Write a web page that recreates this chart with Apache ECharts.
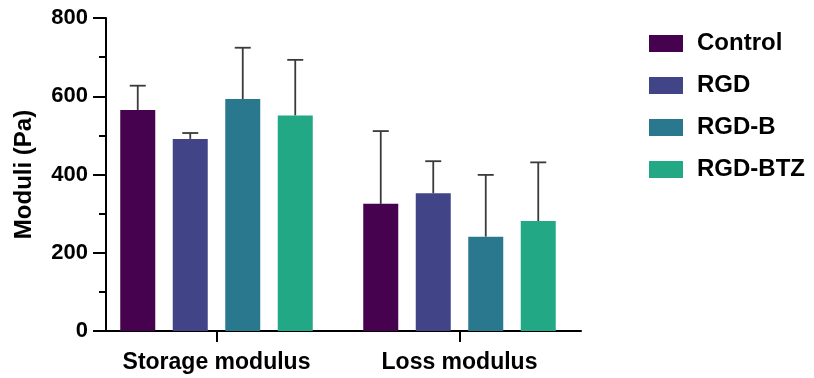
<!DOCTYPE html>
<html><head><meta charset="utf-8">
<script src="https://cdn.jsdelivr.net/npm/echarts@6/dist/echarts.min.js"></script>
<style>html,body{margin:0;padding:0;background:#fff}#c{width:814px;height:378px}</style>
</head><body><div id="c"></div>
<script>
const categories = ['Storage modulus', 'Loss modulus'];
const seriesNames = ['Control', 'RGD', 'RGD-B', 'RGD-BTZ'];
const controlMean = [565, 325];
const rgdMean = [491, 352];
const rgdBMean = [593, 241];
const rgdBTZMean = [551, 281];
const controlErr = [627, 511];
const rgdErr = [506, 434];
const rgdBErr = [724, 399];
const rgdBTZErr = [693, 431];
const colors = ['#46024E', '#414487', '#2A788E', '#22A884'];

const means = [controlMean, rgdMean, rgdBMean, rgdBTZMean];
const errs = [controlErr, rgdErr, rgdBErr, rgdBTZErr];
const FONT = 'Liberation Sans, Arial, sans-serif';

const chart = echarts.init(document.getElementById('c'));
const series = [];
seriesNames.forEach((n, i) => {
  series.push({
    name: n, type: 'bar', data: means[i], barWidth: 35, barGap: '50%',
    itemStyle: { color: colors[i] }, z: 2
  });
});
seriesNames.forEach((n, i) => {
  series.push({
    name: n + ' err', type: 'custom',
    data: categories.map((c, k) => [k, means[i][k], errs[i][k]]),
    z: 1,
    renderItem: function (params, api) {
      const k = api.value(0);
      const layout = api.barLayout({ count: 4, barWidth: 35, barGap: '50%' });
      const off = layout[i].offsetCenter;
      const p0 = api.coord([k, api.value(1)]);
      const p1 = api.coord([k, api.value(2)]);
      const x = p0[0] + off;
      const half = 8;
      const st = { stroke: '#3a3a3a', lineWidth: 1.8 };
      return { type: 'group', children: [
        { type: 'line', shape: { x1: x, y1: p0[1], x2: x, y2: p1[1] }, style: st },
        { type: 'line', shape: { x1: x - half, y1: p1[1], x2: x + half, y2: p1[1] }, style: st }
      ]};
    }
  });
});

chart.setOption({
  animation: false,
  grid: { left: 95, top: 18, width: 486, bottom: 47 },
  legend: {
    data: seriesNames, orient: 'vertical', left: 644, top: 26,
    itemWidth: 34, itemHeight: 17, itemGap: 17, icon: 'rect',
    textStyle: { fontFamily: FONT, fontWeight: 'bold', fontSize: 24, color: '#000', lineHeight: 25, padding: [0, 0, 0, 9] }
  },
  xAxis: [{
    type: 'category', data: categories,
    axisLine: { lineStyle: { color: '#000', width: 2 } },
    axisTick: { show: false },
    axisLabel: { interval: 0, fontFamily: FONT, fontWeight: 'bold', fontSize: 23, color: '#000', margin: 20 }
  }, {
    type: 'value', position: 'bottom', min: -0.5, max: 1.5,
    axisLine: { show: false },
    splitLine: { show: false },
    axisTick: { show: true, customValues: [0, 1], length: 11, lineStyle: { color: '#000', width: 2 } },
    axisLabel: { show: false }
  }],
  yAxis: {
    type: 'value', min: 0, max: 800, interval: 200, offset: -11,
    name: 'Moduli (Pa)', nameLocation: 'middle', nameGap: 70,
    nameTextStyle: { fontFamily: FONT, fontWeight: 'bold', fontSize: 24, color: '#000' },
    axisLine: { show: true, onZero: false, lineStyle: { color: '#000', width: 2 } },
    axisTick: { show: true, length: 13, lineStyle: { color: '#000', width: 2 } },
    minorTick: { show: true, splitNumber: 2, length: 7, lineStyle: { color: '#000', width: 2 } },
    splitLine: { show: false },
    axisLabel: { fontFamily: FONT, fontWeight: 'bold', fontSize: 22, color: '#000', margin: 18 }
  },
  series: series
});
</script></body></html>
